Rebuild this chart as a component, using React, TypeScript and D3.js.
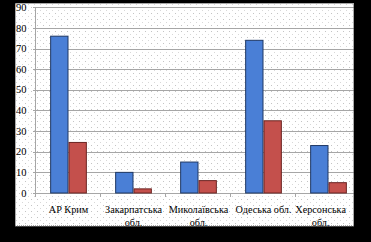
import React, { useEffect, useRef } from "react";
import * as d3 from "d3";

const categories = ["АР Крим", "Закарпатська обл.", "Миколаївська обл.", "Одеська обл.", "Херсонська обл."];
const labelLines = [["АР Крим"], ["Закарпатська", "обл."], ["Миколаївська", "обл."], ["Одеська обл."], ["Херсонська", "обл."]];
const series1 = [76, 10, 15, 74, 23];
const series2 = [24.5, 2, 6, 35, 5];
const yTicks = [0, 10, 20, 30, 40, 50, 60, 70, 80, 90];

const FONT = "Liberation Serif, DejaVu Serif, serif";

export default function App() {
  const ref = useRef<SVGSVGElement>(null);
  useEffect(() => {
    const svg = d3.select(ref.current);
    svg.selectAll("*").remove();
    const W = 371, H = 242;
    const panel = { x: 15, y: 3, w: 339, h: 223.5 };
    const left = 36, right = 361, top = 7.3, bottom = 193;

    svg.append("rect").attr("width", W).attr("height", H).attr("fill", "#000");

    const defs = svg.append("defs");
    const pat = defs.append("pattern").attr("id", "dots").attr("width", 6).attr("height", 6)
      .attr("patternUnits", "userSpaceOnUse");
    pat.append("rect").attr("width", 6).attr("height", 6).attr("fill", "#fff");
    pat.append("rect").attr("x", 1).attr("y", 1).attr("width", 1).attr("height", 1).attr("fill", "#c4c4c4");
    pat.append("rect").attr("x", 4).attr("y", 4).attr("width", 1).attr("height", 1).attr("fill", "#d8d8d8");
    defs.append("clipPath").attr("id", "pclip").append("rect")
      .attr("x", panel.x).attr("y", panel.y).attr("width", panel.w).attr("height", panel.h);

    const g = svg.append("g").attr("clip-path", "url(#pclip)");
    g.append("rect").attr("x", panel.x).attr("y", panel.y).attr("width", panel.w).attr("height", panel.h)
      .attr("fill", "url(#dots)");

    const x0 = d3.scaleBand<string>().domain(categories).range([left, right]);
    const x1 = d3.scaleBand<number>().domain([0, 1]).range([0, 36.7]);
    const y = d3.scaleLinear().domain([0, 90]).range([bottom, top]);

    g.selectAll(".grid").data(yTicks).enter().append("line")
      .attr("x1", left - 3).attr("x2", right).attr("y1", (d) => Math.round(y(d)) + 0.5).attr("y2", (d) => Math.round(y(d)) + 0.5)
      .attr("stroke", "#a6a6a6").attr("stroke-width", 1);
    g.append("line").attr("x1", left - 0.5).attr("x2", left - 0.5).attr("y1", top).attr("y2", bottom)
      .attr("stroke", "#a6a6a6");
    g.selectAll(".xt").data(categories.concat(["end"])).enter().append("line")
      .attr("x1", (_d, i) => left + i * x0.step() - 0.5).attr("x2", (_d, i) => left + i * x0.step() - 0.5)
      .attr("y1", bottom).attr("y2", bottom + 4).attr("stroke", "#a6a6a6");

    const groupOff = (x0.bandwidth() - 36.7) / 2;
    const bars = [
      { vals: series1, fill: "#4a7fd6", stroke: "#1f3864", idx: 0 },
      { vals: series2, fill: "#c4504c", stroke: "#6b2422", idx: 1 },
    ];
    bars.forEach((s) => {
      g.selectAll(".b" + s.idx).data(s.vals).enter().append("rect")
        .attr("x", (_d, i) => (x0(categories[i]) as number) + groupOff + (x1(s.idx) as number) + 0.5)
        .attr("y", (d) => y(d))
        .attr("width", x1.bandwidth() - 1)
        .attr("height", (d) => bottom - y(d))
        .attr("fill", s.fill).attr("stroke", s.stroke).attr("stroke-width", 1);
    });

    g.selectAll(".yl").data(yTicks).enter().append("text")
      .attr("x", 26.5).attr("y", (d) => y(d) + 3.6)
      .attr("text-anchor", "end")
      .attr("font-family", FONT)
      .attr("font-size", 10.5).attr("fill", "#000").text((d) => String(d));

    const SX = 0.93;
    const maxRight = 346;
    labelLines.forEach((lines, i) => {
      const cx = (x0(categories[i]) as number) + x0.bandwidth() / 2;
      const probe = g.append("text").attr("font-family", FONT).attr("font-size", 11).text(lines[0]);
      const fw = (probe.node() as SVGTextElement).getComputedTextLength() * SX;
      probe.remove();
      const px = cx + fw / 2 > maxRight ? maxRight - fw / 2 : cx;
      lines.forEach((ln, j) => {
        g.append("text")
          .attr("transform", `translate(${px},${212.5 + j * 13.5}) scale(${SX},1)`)
          .attr("text-anchor", "middle")
          .attr("font-family", FONT)
          .attr("font-size", 11).attr("fill", "#000").text(ln);
      });
    });

    svg.append("rect").attr("x", panel.x + 0.5).attr("y", panel.y + 0.5).attr("width", panel.w - 1).attr("height", panel.h - 1)
      .attr("fill", "none").attr("stroke", "#555").attr("stroke-dasharray", "1,1");
  }, []);
  return (
    <svg ref={ref} width={371} height={242} style={{ position: "fixed", left: 0, top: 0, display: "block" }} />
  );
}
